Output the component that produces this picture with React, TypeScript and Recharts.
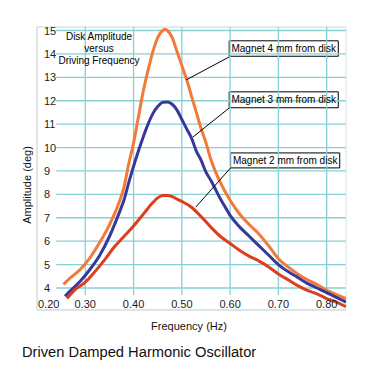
import { LineChart, Line, XAxis, YAxis, ReferenceLine, ReferenceArea } from 'recharts';

// Magnet 4 mm from disk
const freq4 = [0.255, 0.27, 0.29, 0.31, 0.33, 0.35, 0.37, 0.38, 0.39, 0.40, 0.41, 0.42, 0.43, 0.44, 0.45, 0.46, 0.465, 0.47, 0.48, 0.49, 0.50, 0.51, 0.52, 0.53, 0.54, 0.55, 0.56, 0.57, 0.58, 0.59, 0.60, 0.62, 0.64, 0.66, 0.68, 0.70, 0.72, 0.74, 0.76, 0.78, 0.80, 0.82, 0.84];
const amp4 = [4.15, 4.45, 4.8, 5.3, 5.95, 6.7, 7.65, 8.3, 9.3, 10.2, 11.3, 12.4, 13.3, 14.1, 14.7, 15.0, 15.05, 15.0, 14.7, 14.1, 13.5, 12.9, 12.2, 11.5, 10.8, 10.2, 9.5, 8.95, 8.5, 8.1, 7.75, 7.15, 6.7, 6.3, 5.8, 5.25, 4.9, 4.6, 4.35, 4.15, 3.9, 3.72, 3.55];

// Magnet 3 mm from disk
const freq3 = [0.258, 0.27, 0.29, 0.31, 0.33, 0.35, 0.37, 0.38, 0.39, 0.40, 0.41, 0.42, 0.43, 0.44, 0.45, 0.46, 0.47, 0.48, 0.49, 0.50, 0.51, 0.52, 0.53, 0.54, 0.55, 0.56, 0.57, 0.58, 0.59, 0.60, 0.62, 0.64, 0.66, 0.68, 0.70, 0.72, 0.74, 0.76, 0.78, 0.80, 0.82, 0.84];
const amp3 = [3.65, 3.9, 4.3, 4.8, 5.4, 6.2, 7.2, 7.75, 8.5, 9.2, 9.85, 10.45, 11.0, 11.45, 11.75, 11.93, 11.95, 11.85, 11.6, 11.2, 10.8, 10.4, 9.85, 9.45, 8.95, 8.6, 8.2, 7.8, 7.45, 7.1, 6.6, 6.2, 5.8, 5.4, 5.0, 4.7, 4.45, 4.2, 4.0, 3.8, 3.6, 3.4];

// Magnet 2 mm from disk
const freq2 = [0.262, 0.28, 0.30, 0.32, 0.34, 0.36, 0.38, 0.40, 0.42, 0.44, 0.45, 0.46, 0.47, 0.48, 0.49, 0.50, 0.52, 0.54, 0.56, 0.58, 0.60, 0.62, 0.64, 0.66, 0.68, 0.70, 0.72, 0.74, 0.76, 0.78, 0.80, 0.82, 0.84];
const amp2 = [3.55, 3.95, 4.25, 4.7, 5.2, 5.75, 6.2, 6.65, 7.15, 7.65, 7.85, 7.95, 7.95, 7.9, 7.8, 7.7, 7.45, 7.05, 6.6, 6.2, 5.9, 5.6, 5.35, 5.15, 4.9, 4.6, 4.35, 4.1, 3.9, 3.75, 3.55, 3.4, 3.2];

const freqTicks = [0.2, 0.3, 0.4, 0.5, 0.6, 0.7, 0.8];
const ampTicks = [4, 5, 6, 7, 8, 9, 10, 11, 12, 13, 14, 15];

const xDomain: [number, number] = [0.2, 0.84];
const yDomain: [number, number] = [3.06, 15.15];

const zip = (f: number[], a: number[]) => f.map((x, i) => ({ f: x, v: a[i] }));
const data4 = zip(freq4, amp4);
const data3 = zip(freq3, amp3);
const data2 = zip(freq2, amp2);

const minorX: number[] = [];
for (let i = 0; i <= 32; i++) minorX.push(+(0.2 + i * 0.02).toFixed(2));
const minorY: number[] = [];
for (let i = 0; i <= 60; i++) minorY.push(+(3.2 + i * 0.2).toFixed(1));

const FONT = 'Arial, "Liberation Sans", sans-serif';
const GRID = '#86d0d6';

// tick labels sit inside the plot frame, like the original software draws them
const XTick = (props: any) => {
  const { x, y, payload } = props;
  const first = payload.value === xDomain[0];
  return (
    <text x={first ? x + 1 : x} y={y} dy={-10} textAnchor={first ? 'start' : 'middle'}
      fontSize={11} fontFamily={FONT} fill="#222">
      {payload.value.toFixed(2)}
    </text>
  );
};

const YTick = (props: any) => {
  const { x, y, payload } = props;
  return (
    <text x={x} y={y} dx={15} dy={4} textAnchor="start" fontSize={11} fontFamily={FONT} fill="#222">
      {payload.value}
    </text>
  );
};

const notes = [
  { text: 'Magnet 4 mm from disk', x1: 0.598, x2: 0.824, y1: 13.9, y2: 14.56, from: [0.598, 13.87], to: [0.509, 12.89] },
  { text: 'Magnet 3 mm from disk', x1: 0.598, x2: 0.824, y1: 11.7, y2: 12.38, from: [0.598, 11.69], to: [0.523, 10.45] },
  { text: 'Magnet 2 mm from disk', x1: 0.601, x2: 0.827, y1: 9.13, y2: 9.77, from: [0.601, 9.13], to: [0.529, 7.46] },
];

export default function App() {
  return (
    <div style={{ position: 'absolute', left: 0, top: 0, width: 380, height: 380, background: '#fff', fontFamily: FONT }}>
      <LineChart width={380} height={380} margin={{ top: 27, right: 34, bottom: 68, left: 35 }}>
        <XAxis type="number" dataKey="f" domain={xDomain} ticks={freqTicks} allowDataOverflow
          height={1} tickLine={false} axisLine={{ stroke: '#b9c9cc' }} tick={<XTick />} />
        <XAxis xAxisId="minor" type="number" dataKey="f" domain={xDomain} ticks={minorX} allowDataOverflow
          height={1} tick={false} tickSize={3} tickLine={{ stroke: '#aaa' }} axisLine={false} />
        <YAxis type="number" domain={yDomain} ticks={ampTicks} allowDataOverflow width={1}
          tickLine={false} axisLine={{ stroke: '#c8c8c8' }} tick={<YTick />} />
        <YAxis yAxisId="minor" type="number" domain={yDomain} ticks={minorY} allowDataOverflow width={1}
          tick={false} tickSize={3} tickLine={{ stroke: '#bbb' }} axisLine={false} />

        {ampTicks.map((t) => (
          <ReferenceLine key={'h' + t} segment={[{ x: 0.24, y: t }, { x: xDomain[1], y: t }]} stroke={GRID} strokeWidth={1.3} />
        ))}
        {freqTicks.slice(1).map((t) => (
          <ReferenceLine key={'v' + t} segment={[{ x: t, y: 3.7 }, { x: t, y: yDomain[1] }]} stroke={GRID} strokeWidth={1.3} />
        ))}
        <ReferenceLine y={yDomain[1]} stroke="#c8d6d6" />
        <ReferenceLine x={xDomain[1]} stroke="#d4e2e2" />

        <Line data={data4} dataKey="v" type="monotone" stroke="#f27a38" strokeWidth={3} dot={false} isAnimationActive={false} />
        <Line data={data3} dataKey="v" type="monotone" stroke="#37399a" strokeWidth={3} dot={false} isAnimationActive={false} />
        <Line data={data2} dataKey="v" type="monotone" stroke="#dc3f1c" strokeWidth={3} dot={false} isAnimationActive={false} />

        {notes.map((n) => (
          <ReferenceLine key={'l' + n.text} segment={[{ x: n.from[0], y: n.from[1] }, { x: n.to[0], y: n.to[1] }]} stroke="#000" strokeWidth={1} />
        ))}
        {notes.map((n) => (
          <ReferenceArea key={'b' + n.text} x1={n.x1} x2={n.x2} y1={n.y1} y2={n.y2} fill="#fff" fillOpacity={1}
            stroke="#000" strokeWidth={1}
            label={{ value: n.text, position: 'center', fontSize: 10, fontFamily: FONT, fill: '#000' }} />
        ))}
      </LineChart>

      <div style={{ position: 'absolute', left: 49, top: 31, width: 100, textAlign: 'center', fontSize: 10, lineHeight: '12px', color: '#000' }}>
        Disk Amplitude<br />versus<br />Driving Frequency
      </div>
      <div style={{ position: 'absolute', left: 27, top: 185, transform: 'translate(-50%, -50%) rotate(-90deg)', whiteSpace: 'nowrap', fontSize: 11, color: '#111' }}>
        Amplitude (deg)
      </div>
      <div style={{ position: 'absolute', left: 189, top: 326, transform: 'translate(-50%, -50%)', whiteSpace: 'nowrap', fontSize: 11, color: '#111' }}>
        Frequency (Hz)
      </div>
      <div style={{ position: 'absolute', left: 22, top: 352, transform: 'translateY(-50%)', whiteSpace: 'nowrap', fontSize: 14.7, color: '#111' }}>
        Driven Damped Harmonic Oscillator
      </div>
    </div>
  );
}
